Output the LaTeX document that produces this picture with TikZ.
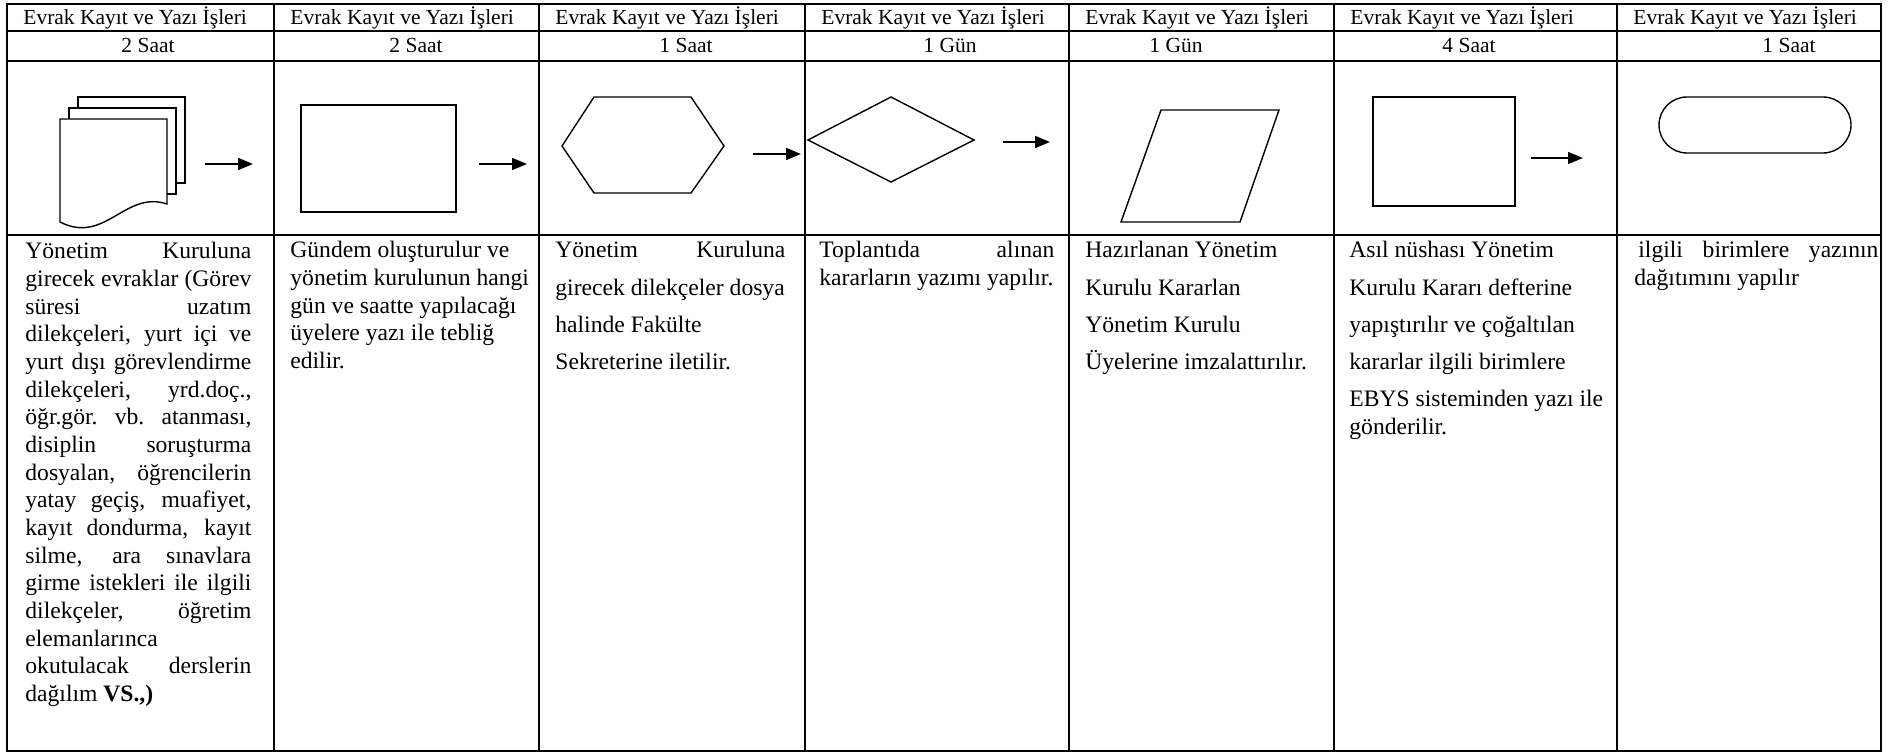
\documentclass[tikz,border=0pt]{standalone}
\usepackage{fontspec}
\setmainfont{Liberation Serif}
\usetikzlibrary{arrows.meta}
\newcommand{\jline}[1]{\makebox[\linewidth][s]{#1}}
\begin{document}
\begin{tikzpicture}[x=0.5pt,y=-0.5pt,
  grid/.style={line width=1pt},
  shp/.style={line width=0.7pt, line join=miter},
  arr/.style={line width=0.85pt, -{Triangle[length=7.5pt,width=6pt]}},
  head/.style={anchor=base west, inner sep=0pt, font=\fontsize{10.75}{12}\selectfont},
  dur/.style={anchor=base, inner sep=0pt, font=\fontsize{10.75}{12}\selectfont},
  body/.style={anchor=base west, inner sep=0pt, font=\fontsize{11.8}{13.83}\selectfont},
  wide/.style={font=\fontsize{11.8}{18.6}\selectfont}]
\fill[white] (0,0) rectangle (1892,753);
\useasboundingbox (0,0) rectangle (1892,753);

% table grid
\draw[grid] (7,4) rectangle (1881,751);
\foreach \y in {31,61,235} \draw[grid] (7,\y) -- (1881,\y);
\foreach \x in {274,539,805,1069,1334,1617} \draw[grid] (\x,4) -- (\x,751);

% header row
\foreach \x/\n in {7/1,274/2,539/3,805/4,1069/5,1334/6,1617/7}
  \node[head] (h\n) at (\x+16,25) {Evrak Kayıt ve Yazı İşleri};

% duration row
\node[dur] (d1) at (148,53) {2 Saat};
\node[dur] (d2) at (416,53) {2 Saat};
\node[dur] (d3) at (686,53) {1 Saat};
\node[dur] (d4) at (950,53) {1 Gün};
\node[dur] (d5) at (1176,53) {1 Gün};
\node[dur] (d6) at (1469,53) {4 Saat};
\node[dur] (d7) at (1789,53) {1 Saat};

% shapes
\draw[shp] (78,108) -- (78,97) -- (185,97) -- (185,183) -- (176,183);
\draw[shp] (69,119) -- (69,108) -- (176,108) -- (176,194) -- (167,194);
\draw[shp] (60,119) -- (167,119) -- (167,204) .. controls (125,190) and (105,245) .. (60,222) -- cycle;
\draw[shp] (301,105) rectangle (456,212);
\draw[shp] (562,146) -- (594,97) -- (691,97) -- (724,146) -- (691,193) -- (594,193) -- cycle;
\draw[shp] (808,140) -- (891,97) -- (974,140) -- (891,182) -- cycle;
\draw[shp] (1161,110) -- (1279,110) -- (1240,222) -- (1121,222) -- cycle;
\draw[shp] (1373,97) rectangle (1515,206);
\draw[shp, rounded corners=14pt] (1659,97) rectangle (1851,153);

% arrows
\coordinate (a1s) at (205,164); \coordinate (a1e) at (253,164);
\coordinate (a2s) at (479,164); \coordinate (a2e) at (527,164);
\coordinate (a3s) at (753,154); \coordinate (a3e) at (801,154);
\coordinate (a4s) at (1003,142); \coordinate (a4e) at (1050,142);
\coordinate (a6s) at (1531,158); \coordinate (a6e) at (1583,158);
\draw[arr] (a1s) -- (a1e);
\draw[arr] (a2s) -- (a2e);
\draw[arr] (a3s) -- (a3e);
\draw[arr] (a4s) -- (a4e);
\draw[arr] (a6s) -- (a6e);

% body texts
\node[body] (t1) at (25,259) {\parbox[t]{113pt}{%
\jline{Yönetim Kuruluna}\\
\jline{girecek evraklar (Görev}\\
\jline{süresi uzatım}\\
\jline{dilekçeleri, yurt içi ve}\\
\jline{yurt dışı görevlendirme}\\
\jline{dilekçeleri, yrd.doç.,}\\
\jline{öğr.gör. vb. atanması,}\\
\jline{disiplin soruşturma}\\
\jline{dosyalan, öğrencilerin}\\
\jline{yatay geçiş, muafiyet,}\\
\jline{kayıt dondurma, kayıt}\\
\jline{silme, ara sınavlara}\\
\jline{girme istekleri ile ilgili}\\
\jline{dilekçeler, öğretim}\\
elemanlarınca\\
\jline{okutulacak derslerin}\\
dağılım \textbf{VS.,)}}};

\node[body] (t2) at (290,258) {\parbox[t]{125pt}{%
Gündem oluşturulur ve\\
yönetim kurulunun hangi\\
gün ve saatte yapılacağı\\
üyelere yazı ile tebliğ\\
edilir.}};

\node[body,wide] (t3) at (555,258) {\parbox[t]{115pt}{%
\jline{Yönetim Kuruluna}\\
girecek dilekçeler dosya\\
halinde Fakülte\\
Sekreterine iletilir.}};

\node[body] (t4) at (819,258) {\parbox[t]{117.5pt}{%
\jline{Toplantıda alınan}\\
kararların yazımı yapılır.}};

\node[body,wide] (t5) at (1085,258) {\parbox[t]{125pt}{%
Hazırlanan Yönetim\\
Kurulu Kararlan\\
Yönetim Kurulu\\
Üyelerine imzalattırılır.}};

\node[body,wide] (t6) at (1349,258) {\parbox[t]{132pt}{%
Asıl nüshası Yönetim\\
Kurulu Kararı defterine\\
yapıştırılır ve çoğaltılan\\
kararlar ilgili birimlere\\
EBYS sisteminden yazı ile\\[-4.5pt]
gönderilir.}};

\node[body] (t7) at (1634,258) {\parbox[t]{122pt}{%
\jline{\hspace*{2pt}ilgili birimlere yazının}\\
dağıtımını yapılır}};
\end{tikzpicture}
\end{document}
